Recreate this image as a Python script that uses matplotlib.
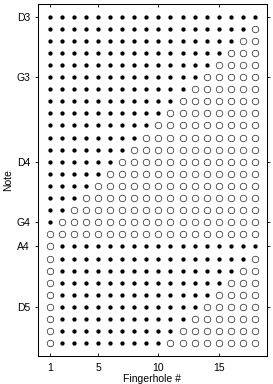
import matplotlib
matplotlib.use("Agg")
import matplotlib.pyplot as plt
import numpy as np

plt.rcParams['font.family'] = ['Liberation Sans', 'DejaVu Sans']

# rows from top (D3) to bottom; each row: holes closed from .. to (inclusive)
n_holes = 18
closed_from = [1, 1, 1, 1, 1, 1, 1, 1, 1, 1, 1, 1, 1, 1, 1, 1, 1, 1, 1,
               2, 2, 2, 2, 2, 2, 2, 2, 2]
closed_to = [18, 17, 16, 15, 14, 13, 12, 11, 10, 9, 8, 7, 6, 5, 4, 3, 2, 1, 0,
             18, 17, 16, 15, 14, 13, 12, 11, 10]
note_rows = [1, 6, 13, 18, 20, 25]
note_labels = ['D3', 'G3', 'D4', 'G4', 'A4', 'D5']
x_ticks = [1, 5, 10, 15]

fig = plt.figure(figsize=(2.73, 3.84), dpi=100)
ax = fig.add_axes([0.138, 0.073, 0.840, 0.917])

fx, fy, ox, oy = [], [], [], []
for i in range(len(closed_to)):
    row = i + 1
    for h in range(1, n_holes + 1):
        if closed_from[i] <= h <= closed_to[i]:
            fx.append(h); fy.append(row)
        else:
            ox.append(h); oy.append(row)

ax.plot(ox, oy, 'o', ms=4.7, mfc='none', mec='#222222', mew=0.5, ls='none')
ax.plot(fx, fy, 'o', ms=3.1, mfc='black', mec='black', mew=0, ls='none')

ax.set_xlim(0, 19)
ax.set_ylim(29.05, -0.05)
ax.set_xticks(x_ticks)
ax.set_yticks(note_rows)
ax.set_yticklabels(note_labels)
ax.tick_params(axis='both', labelsize=7.5, length=2.5, width=0.6, pad=2)
ax.tick_params(axis='x', direction='in', top=True, pad=5)
ax.tick_params(axis='y', direction='out', right=True, pad=3)
for s in ax.spines.values():
    s.set_linewidth(0.75)

ax.set_xlabel('Fingerhole #', fontsize=7.5, labelpad=1)
ax.set_ylabel('Note', fontsize=7.5)
ax.yaxis.set_label_coords(-0.105, 0.5)

fig.savefig('out.png', dpi=100)
